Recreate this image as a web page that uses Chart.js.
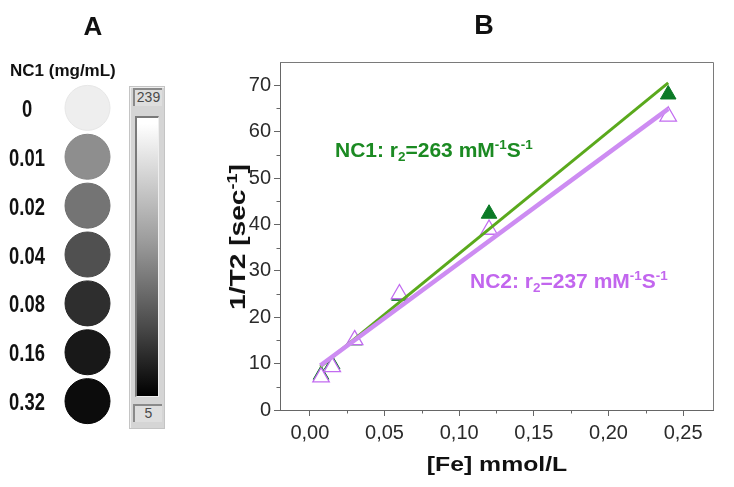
<!DOCTYPE html>
<html><head><meta charset="utf-8">
<script src="https://cdn.jsdelivr.net/npm/chart.js@4.4.0/dist/chart.umd.min.js"></script>
<style>
html,body{margin:0;padding:0;background:#fff;}
#wrap{position:relative;width:734px;height:487px;overflow:hidden;font-family:Arial,"Liberation Sans",sans-serif;}
canvas{position:absolute;}
.abs{position:absolute;white-space:nowrap;line-height:1;}
sup,sub{font-size:0.64em;line-height:0;position:relative;vertical-align:baseline;}
sup{top:-0.6em;} sub{top:0.32em;}
.box{position:absolute;box-sizing:border-box;}
</style></head>
<body><div id="wrap">
<canvas id="cA" width="125" height="487" style="left:0;top:0;width:125px;height:487px"></canvas>
<canvas id="cB" width="554" height="487" style="left:180px;top:0;width:554px;height:487px"></canvas>

<div class="abs" style="left:93px;top:26px;transform:translate(-50%,-50%);font-weight:bold;font-size:26px;color:#111">A</div>
<div class="abs" style="left:484px;top:25px;transform:translate(-50%,-50%);font-weight:bold;font-size:27px;color:#111">B</div>
<div class="abs" style="left:10px;top:62px;font-weight:bold;font-size:17px;color:#111">NC1 (mg/mL)</div>

<!-- grey scale bar -->
<div class="box" style="left:129px;top:86px;width:36px;height:343px;background:#d5d5d5;border:1px solid #c4c4c4;box-shadow:inset 1px 1px 0 #eee"></div>
<div class="box" style="left:133px;top:88px;width:29px;height:18px;background:#dedede;border-top:2px solid #8a8a8a;border-left:2px solid #8a8a8a;font-size:14px;color:#4a4a4a;text-align:center;line-height:15px">239</div>
<div class="box" style="left:135px;top:116px;width:24px;height:281px;border-top:2px solid #7a7a7a;border-left:2px solid #7a7a7a;border-right:1px solid #eee;border-bottom:1px solid #eee;background:linear-gradient(#ffffff 2%,#9a9a9a 45%,#4a4a4a 75%,#000000 100%)"></div>
<div class="box" style="left:133px;top:404px;width:29px;height:18px;background:#dedede;border-top:2px solid #8a8a8a;border-left:2px solid #8a8a8a;font-size:14px;color:#4a4a4a;text-align:center;line-height:15px">5</div>

<!-- panel B texts -->
<div class="abs" style="left:497px;top:463px;transform:translate(-50%,-50%) scaleX(1.18);font-weight:bold;font-size:21px;color:#111">[Fe] mmol/L</div>
<div class="abs" style="left:238px;top:237px;transform:translate(-50%,-50%) rotate(-90deg) scaleX(1.28);font-weight:bold;font-size:22px;color:#111">1/T2 [sec<sup>-1</sup>]</div>
<div class="abs" style="left:335px;top:139px;font-weight:bold;font-size:21px;color:#1b8a22">NC1: r<sub>2</sub>=263 mM<sup>-1</sup>S<sup>-1</sup></div>
<div class="abs" style="left:470px;top:270px;font-weight:bold;font-size:21px;color:#c266ee">NC2: r<sub>2</sub>=237 mM<sup>-1</sup>S<sup>-1</sup></div>
</div>
<script>
// ---- Panel A data ----
const nc1Conc = ['0', '0.01', '0.02', '0.04', '0.08', '0.16', '0.32'];
const phantomSignal = [238, 142, 116, 80, 46, 24, 12];

// ---- Panel B data ----
const feConc = [0.0075, 0.015, 0.03, 0.06, 0.12, 0.24];
const nc1Rate = [7.6, 9.8, 15.0, 24.6, 42.3, 68.0];
const nc2Rate = [7.1, 9.3, 15.1, 25.0, 38.9, 63.3];
const fitRange = [0.007, 0.24];
const nc1Fit = [9.3, 70.5];
const nc2Fit = [9.6, 64.9];
const xTickValues = [0, 0.05, 0.10, 0.15, 0.20, 0.25];
const xTickLabels = ['0,00', '0,05', '0,10', '0,15', '0,20', '0,25'];
const yTickValues = [0, 10, 20, 30, 40, 50, 60, 70];
const xMinorTicks = [0.025, 0.075, 0.125, 0.175, 0.225];
const yMinorTicks = [5, 15, 25, 35, 45, 55, 65];

// ---- Panel A chart ----
const chartA = new Chart(document.getElementById('cA'), {
  type: 'scatter',
  data: {
    datasets: [{
      data: nc1Conc.map((c, i) => ({x: 0.5, y: i})),
      pointRadius: 22.5,
      pointHoverRadius: 22.5,
      backgroundColor: phantomSignal.map(v => `rgb(${v},${v},${v})`),
      borderColor: phantomSignal.map(v => `rgb(${Math.max(v-8,0)},${Math.max(v-8,0)},${Math.max(v-8,0)})`),
      borderWidth: 1,
      clip: false
    }]
  },
  options: {
    responsive: false, animation: false, events: [],
    layout: {autoPadding: false, padding: {top: 59, bottom: 37, right: 12, left: 62}},
    plugins: {legend: {display: false}, tooltip: {enabled: false}},
    scales: {
      x: {display: false, min: 0, max: 1},
      y: {display: false, reverse: true, min: -1, max: 7}
    }
  }
});
// concentration labels placed on the chart's own y scale
const wrap = document.getElementById('wrap');
nc1Conc.forEach((c, i) => {
  const d = document.createElement('div');
  d.className = 'abs';
  d.textContent = c;
  d.style.cssText = `left:27px;top:${chartA.scales.y.getPixelForValue(i) + 1}px;transform:translate(-50%,-50%) scaleX(0.8);font-weight:bold;font-size:23px;color:#111`;
  wrap.appendChild(d);
});

// ---- Panel B chart ----
const frameColor = '#666';
const framePlugin = {
  id: 'frameMinor',
  afterDraw(chart) {
    const {ctx, chartArea: a, scales: {x, y}} = chart;
    ctx.save();
    ctx.strokeStyle = '#7a7a7a';
    ctx.lineWidth = 1;
    ctx.beginPath();
    ctx.moveTo(a.left, a.top + 0.5); ctx.lineTo(a.right + 0.5, a.top + 0.5); ctx.lineTo(a.right + 0.5, a.bottom);
    ctx.stroke();
    ctx.strokeStyle = frameColor;
    ctx.beginPath();
    xMinorTicks.forEach(v => { const px = Math.round(x.getPixelForValue(v)) + 0.5; ctx.moveTo(px, a.bottom); ctx.lineTo(px, a.bottom + 3.5); });
    yMinorTicks.forEach(v => { const py = Math.round(y.getPixelForValue(v)) + 0.5; ctx.moveTo(a.left, py); ctx.lineTo(a.left - 3.5, py); });
    ctx.stroke();
    ctx.restore();
  }
};

new Chart(document.getElementById('cB'), {
  type: 'scatter',
  data: {
    datasets: [
      {type: 'line', label: 'NC2 fit', data: fitRange.map((v, i) => ({x: v, y: nc2Fit[i]})),
       borderColor: '#cd8cf2', borderWidth: 4.5, pointRadius: 0, fill: false, order: 1},
      {type: 'line', label: 'NC1 fit', data: fitRange.map((v, i) => ({x: v, y: nc1Fit[i]})),
       borderColor: '#5aa91c', borderWidth: 3, pointRadius: 0, fill: false, order: 2},
      {label: 'NC2', data: feConc.map((v, i) => ({x: v, y: nc2Rate[i]})),
       pointStyle: 'triangle', pointRadius: 9.5, backgroundColor: '#ffffff', borderColor: '#c26cf0', borderWidth: 1.3, order: 3},
      {label: 'NC1', data: feConc.map((v, i) => ({x: v, y: nc1Rate[i]})),
       pointStyle: 'triangle', pointRadius: 9, backgroundColor: '#0b7a26', borderColor: '#0b7a26', borderWidth: 1, order: 4}
    ]
  },
  options: {
    responsive: false, animation: false, events: [],
    layout: {autoPadding: false, padding: {top: 62, right: 21, left: 0, bottom: 0}},
    plugins: {legend: {display: false}, tooltip: {enabled: false}},
    scales: {
      x: {
        type: 'linear', min: -0.02, max: 0.27,
        afterBuildTicks: s => { s.ticks = xTickValues.map(v => ({value: v})); },
        afterFit: s => { s.height = 77; s.paddingLeft = 0; s.paddingRight = 0; },
        grid: {drawOnChartArea: false, drawTicks: true, tickLength: 6, tickColor: frameColor},
        border: {display: true, color: frameColor, width: 1},
        ticks: {callback: (v, i) => xTickLabels[i], padding: 5, color: '#2a2a2a', font: {family: 'Arial,"Liberation Sans",sans-serif', size: 20}, maxRotation: 0}
      },
      y: {
        type: 'linear', min: 0, max: 75,
        afterBuildTicks: s => { s.ticks = yTickValues.map(v => ({value: v})); },
        afterFit: s => { s.width = 100; s.paddingTop = 0; s.paddingBottom = 0; },
        grid: {drawOnChartArea: false, drawTicks: true, tickLength: 6, tickColor: frameColor},
        border: {display: true, color: frameColor, width: 1},
        ticks: {padding: 3, color: '#2a2a2a', font: {family: 'Arial,"Liberation Sans",sans-serif', size: 20}}
      }
    }
  },
  plugins: [framePlugin]
});
</script>
</body></html>
